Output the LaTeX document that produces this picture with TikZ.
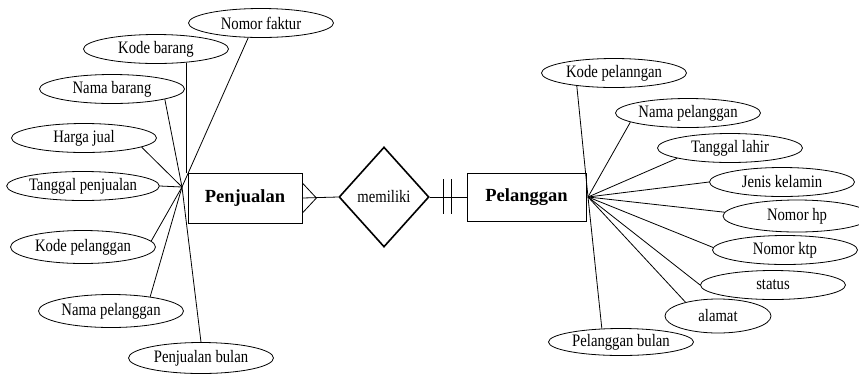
\documentclass[tikz,border=0pt]{standalone}
\usepackage{fontspec}
\setmainfont{Liberation Serif}
\newfontfamily\attrfont[FakeStretch=0.84]{Liberation Serif}
\usetikzlibrary{shapes.geometric}

\begin{document}
\begin{tikzpicture}[x=1pt,y=-1pt]
	\tikzstyle{attr}=[ellipse,draw,line width=0.8pt,inner sep=0pt,minimum width=145pt,minimum height=29pt,font=\attrfont\fontsize{17.5}{20}\selectfont]
	\tikzstyle{entitas}=[rectangle,draw,line width=0.8pt,minimum width=114pt,minimum height=50pt,font=\fontsize{18.5}{22}\selectfont\bfseries]
	\tikzstyle{relasi}=[diamond,draw,line width=1.6pt,inner sep=0pt,minimum width=90pt,minimum height=100pt,font=\attrfont\fontsize{17.5}{20}\selectfont]
	\tikzstyle{garis}=[line width=0.8pt]
	\useasboundingbox (0,0) rectangle (859,376);
	\node[entitas] (pj) at (245,198){Penjualan};
	\node[relasi] (rel) at (384,197){memiliki};
	\node[entitas,minimum width=119pt,minimum height=48pt] (pl) at (526.5,197){Pelanggan};
	\coordinate (hubL) at (182,187);
	\coordinate (hubR) at (588,197);
	\node[attr] (nf) at (261,23){Nomor faktur};
	\node[attr] (kb) at (156,49){Kode barang};
	\node[attr] (nb) at (112,89){Nama barang};
	\node[attr] (hj) at (84,138){Harga jual};
	\node[attr] (tp) at (83,186){Tanggal penjualan};
	\node[attr,minimum height=33pt] (kp) at (83,247){Kode pelanggan};
	\node[attr,minimum height=33pt] (np) at (111,311){Nama pelanggan};
	\node[attr,minimum height=31pt] (pb) at (201,358){Penjualan bulan};
	\node[attr] (kpl) at (614,73){Kode pelanngan};
	\node[attr] (npl) at (688,113){Nama pelanggan};
	\node[attr] (tl) at (730,148){Tanggal lahir};
	\node[attr] (jk) at (782,182){Jenis kelamin};
	\node[attr,minimum width=148pt,minimum height=32pt] (hp) at (797,216){Nomor hp};
	\node[attr] (ktp) at (785,250){Nomor ktp};
	\node[attr] (st) at (773,285){status};
	\node[attr,minimum width=106pt,minimum height=34pt] (al) at (718,316){alamat};
	\node[attr,minimum height=27pt] (pbl) at (621,342){Pelanggan bulan};
	\draw[garis] (nf.229) -- (hubL);
	\draw[garis] (kb.336) -- (kb.336 |- pj.north);
	\draw[garis] (nb.349) -- (hubL);
	\draw[garis] (hj.351) -- (hubL);
	\draw[garis] (tp.east) -- (hubL);
	\draw[garis] (kp.5) -- (hubL);
	\draw[garis] (np.20) -- (hubL);
	\draw[garis] (pb.north) -- (hubL);
	\draw[garis] (kpl.199) -- (hubR);
	\draw[garis] (npl.189) -- (hubR);
	\draw[garis] (tl.191) -- (hubR);
	\draw[garis] (jk.west) -- (hubR);
	\draw[garis] (hp.177) -- (hubR);
	\draw[garis] (ktp.178) -- (hubR);
	\draw[garis] (st.west) -- (hubR);
	\draw[garis] (al.157) -- (hubR);
	\draw[garis] (pbl.145) -- (hubR);
	\draw[garis] (pj.east) -- (rel.west);
	\draw[garis] ([yshift=15pt]pj.east) -- ([xshift=14pt]pj.east) -- ([yshift=-15pt]pj.east);
	\draw[garis] (rel.east) -- (pl.west);
	\draw[garis] ([xshift=-23pt,yshift=18pt]pl.west) -- ([xshift=-23pt,yshift=-17pt]pl.west);
	\draw[garis] ([xshift=-15pt,yshift=18pt]pl.west) -- ([xshift=-15pt,yshift=-17pt]pl.west);
\end{tikzpicture}
\end{document}
